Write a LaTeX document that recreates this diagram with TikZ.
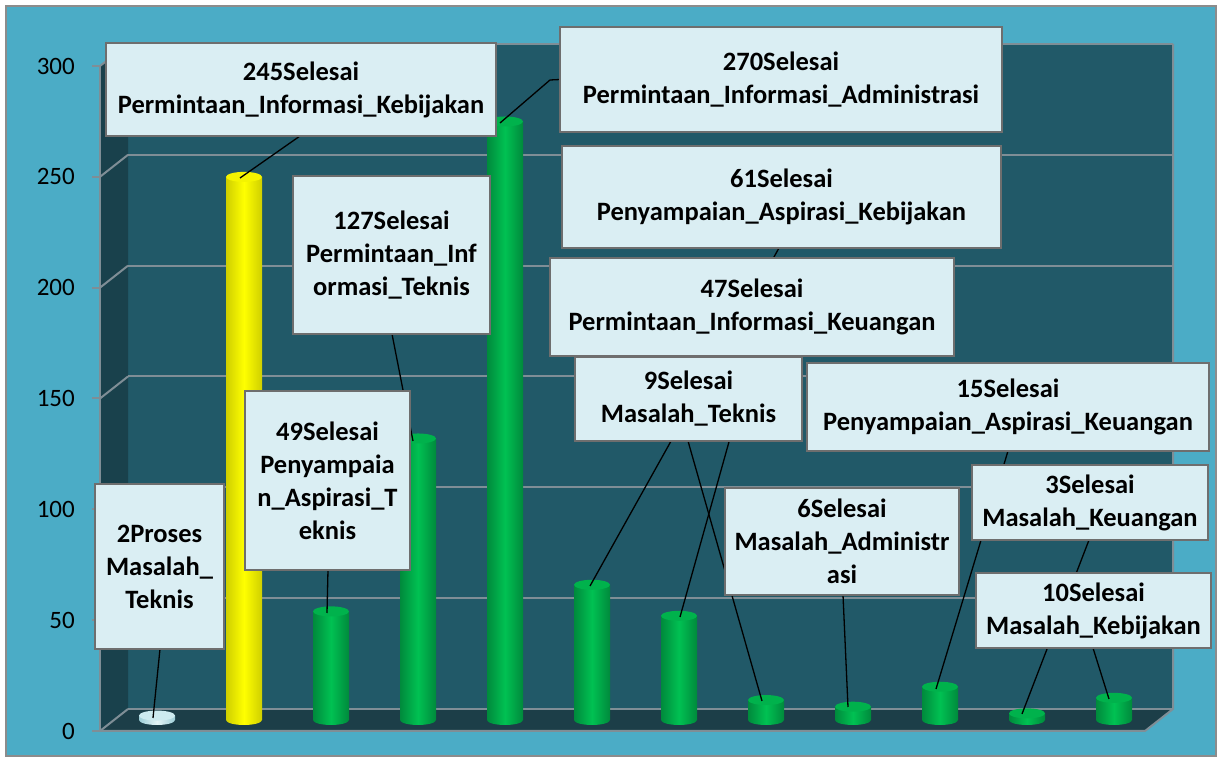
\documentclass[tikz,border=0pt]{standalone}
\usepackage{fontspec}
\setmainfont{Carlito}
\definecolor{outerbg}{HTML}{4BACC6}
\definecolor{wallc}{HTML}{215968}
\definecolor{sidec}{HTML}{19414C}
\definecolor{floorc}{HTML}{1C3E48}
\definecolor{gridc}{HTML}{7F8E96}
\definecolor{boxfill}{HTML}{DAEEF3}
\definecolor{boxline}{HTML}{6E6E6E}
\definecolor{gdark}{HTML}{008A3C}
\definecolor{gmid}{HTML}{00C152}
\definecolor{gtop}{HTML}{00B24C}
\definecolor{ydark}{HTML}{CFCF00}
\definecolor{ymid}{HTML}{FFFF00}
\definecolor{ytop}{HTML}{F4F400}
\definecolor{pdark}{HTML}{9ECFD8}
\definecolor{pmid}{HTML}{E4F5F7}
\definecolor{ptop}{HTML}{CDEBF0}
\newcommand\mycyl[5]{%
  \pgfmathsetmacro\yt{40+#2*2.2167}%
  \shade[left color=#3, right color=#3, middle color=#4] (#1-18,\yt) -- (#1-18,40) arc[start angle=180,end angle=360,x radius=18,y radius=5] -- (#1+18,\yt) -- cycle;
  \fill[#5] (#1,\yt) ellipse[x radius=18,y radius=5];
}
\tikzset{
  lbl/.style={draw=boxline, line width=2pt, fill=boxfill, inner sep=0pt, align=center,
    font=\fontsize{26.5}{33}\selectfont\bfseries},
  ghost/.style={lbl, draw=none, fill=none, text opacity=0},
  lbltext/.style={lbl, draw=none, fill=none},
  leader/.style={draw=black, line width=1.3pt},
  grid/.style={draw=gridc, line width=2pt},
  ticklbl/.style={anchor=east, inner sep=0pt, font=\fontsize{25}{30}\selectfont}
}
\begin{document}
\begin{tikzpicture}[x=1pt,y=1pt]
\useasboundingbox (0,0) rectangle (1219,760);
\fill[white] (0,0) rectangle (1219,760);
\draw[fill=outerbg, draw=gray!90, line width=1.5pt] (6,4) rectangle (1216,754);
% walls and floor
\fill[wallc] (128,51) rectangle (1173,716);
\fill[sidec] (100,29) -- (128,51) -- (128,716) -- (100,694) -- cycle;
\fill[floorc] (100,29) -- (1145,29) -- (1173,51) -- (128,51) -- cycle;
% gridlines
\foreach \v in {0,50,...,300}{
  \pgfmathsetmacro\yf{29+\v*2.2167}
  \pgfmathsetmacro\yb{51+\v*2.2167}
  \draw[grid] (128,\yb) -- (1173,\yb);
  \draw[grid] (100,\yf) -- (128,\yb);
  \draw[grid] (92,\yf) -- (100,\yf);
  \node[ticklbl] at (75,\yf) {\v};
}
\draw[grid] (100,29) -- (100,694);
\draw[grid] (100,29) -- (1145,29) -- (1173,51) -- (1173,716);
% bars
\mycyl{157}{2}{pdark}{pmid}{ptop}
\mycyl{244}{245}{ydark}{ymid}{ytop}
\mycyl{331}{49}{gdark}{gmid}{gtop}
\mycyl{418}{127}{gdark}{gmid}{gtop}
\mycyl{505}{270}{gdark}{gmid}{gtop}
\mycyl{592}{61}{gdark}{gmid}{gtop}
\mycyl{679}{47}{gdark}{gmid}{gtop}
\mycyl{766}{9}{gdark}{gmid}{gtop}
\mycyl{853}{6}{gdark}{gmid}{gtop}
\mycyl{940}{15}{gdark}{gmid}{gtop}
\mycyl{1027}{3}{gdark}{gmid}{gtop}
\mycyl{1114}{10}{gdark}{gmid}{gtop}
% bar top points
\coordinate (t1) at (153,42);
\coordinate (t2) at (240,582);
\coordinate (t3) at (327,147);
\coordinate (t4) at (413,319);
\coordinate (t5) at (500,637);
\coordinate (t6) at (590,174);
\coordinate (t7) at (680,143);
\coordinate (t8) at (762,59);
\coordinate (t9) at (848,53);
\coordinate (t10) at (936,71);
\coordinate (t11) at (1022,46);
\coordinate (t12) at (1109,61);
\coordinate (k5) at (550,680);
% label boxes (placed first invisibly for names)
\path
  (159.5,193.5) node[ghost, minimum width=127pt, minimum height=163pt] (b2) {2Proses\\Masalah\_\\Teknis}
  (301,670.5) node[ghost, minimum width=388pt, minimum height=91pt] (b245) {245Selesai\\Permintaan\_Informasi\_Kebijakan}
  (327.5,279.5) node[ghost, minimum width=163pt, minimum height=177pt] (b49) {49Selesai\\Penyampaia\\n\_Aspirasi\_T\\eknis}
  (391.5,505) node[ghost, minimum width=195pt, minimum height=156pt] (b127) {127Selesai\\Permintaan\_Inf\\ormasi\_Teknis}
  (781,680.5) node[ghost, minimum width=440pt, minimum height=103pt] (b270) {270Selesai\\Permintaan\_Informasi\_Administrasi}
  (781.5,563) node[ghost, minimum width=437pt, minimum height=100pt] (b61) {61Selesai\\Penyampaian\_Aspirasi\_Kebijakan}
  (752,453) node[ghost, minimum width=402pt, minimum height=96pt] (b47) {47Selesai\\Permintaan\_Informasi\_Keuangan}
  (688.5,361) node[ghost, minimum width=225pt, minimum height=82pt] (b9) {9Selesai\\Masalah\_Teknis}
  (1008,353) node[ghost, minimum width=400pt, minimum height=86pt] (b15) {15Selesai\\Penyampaian\_Aspirasi\_Keuangan}
  (842,218.5) node[ghost, minimum width=232pt, minimum height=105pt] (b6) {6Selesai\\Masalah\_Administr\\asi}
  (1090,257.5) node[ghost, minimum width=234pt, minimum height=73pt] (b3) {3Selesai\\Masalah\_Keuangan}
  (1093.5,149.5) node[ghost, minimum width=233pt, minimum height=73pt] (b10) {10Selesai\\Masalah\_Kebijakan};
% leader lines
\draw[leader] ([xshift=0.5pt]b2.south) -- (t1);
\draw[leader] ([xshift=-1pt]b245.south) -- (t2);
\draw[leader] ([xshift=0.5pt]b49.south) -- (t3);
\draw[leader] ([xshift=0.5pt]b127.south) -- (t4);
\draw[leader] (b270.west) -- (k5) -- (t5);
\draw[leader] ([xshift=-2.5pt]b61.south) -- (t6);
\draw[leader] ([xshift=1pt]b47.south) -- (t7);
\draw[leader] ([xshift=-0.5pt]b9.south) -- (t8);
\draw[leader] ([xshift=1pt]b6.south) -- (t9);
\draw[leader] (b15.south) -- (t10);
\draw[leader] ([xshift=-1pt]b3.south) -- (t11);
\draw[leader] ([xshift=-0.5pt]b10.south) -- (t12);
% visible boxes
\foreach \b in {b2,b245,b49,b127,b270,b61,b47,b9,b15,b6,b3,b10}{
  \draw[boxline, line width=2pt, fill=boxfill] (\b.south west) rectangle (\b.north east);
}
\node[lbltext] at (b2) {2Proses\\Masalah\_\\Teknis};
\node[lbltext] at (b245) {245Selesai\\Permintaan\_Informasi\_Kebijakan};
\node[lbltext] at (b49) {49Selesai\\Penyampaia\\n\_Aspirasi\_T\\eknis};
\node[lbltext] at (b127) {127Selesai\\Permintaan\_Inf\\ormasi\_Teknis};
\node[lbltext] at (b270) {270Selesai\\Permintaan\_Informasi\_Administrasi};
\node[lbltext] at (b61) {61Selesai\\Penyampaian\_Aspirasi\_Kebijakan};
\node[lbltext] at (b47) {47Selesai\\Permintaan\_Informasi\_Keuangan};
\node[lbltext] at (b9) {9Selesai\\Masalah\_Teknis};
\node[lbltext] at (b15) {15Selesai\\Penyampaian\_Aspirasi\_Keuangan};
\node[lbltext] at (b6) {6Selesai\\Masalah\_Administr\\asi};
\node[lbltext] at (b3) {3Selesai\\Masalah\_Keuangan};
\node[lbltext] at (b10) {10Selesai\\Masalah\_Kebijakan};
\end{tikzpicture}
\end{document}
